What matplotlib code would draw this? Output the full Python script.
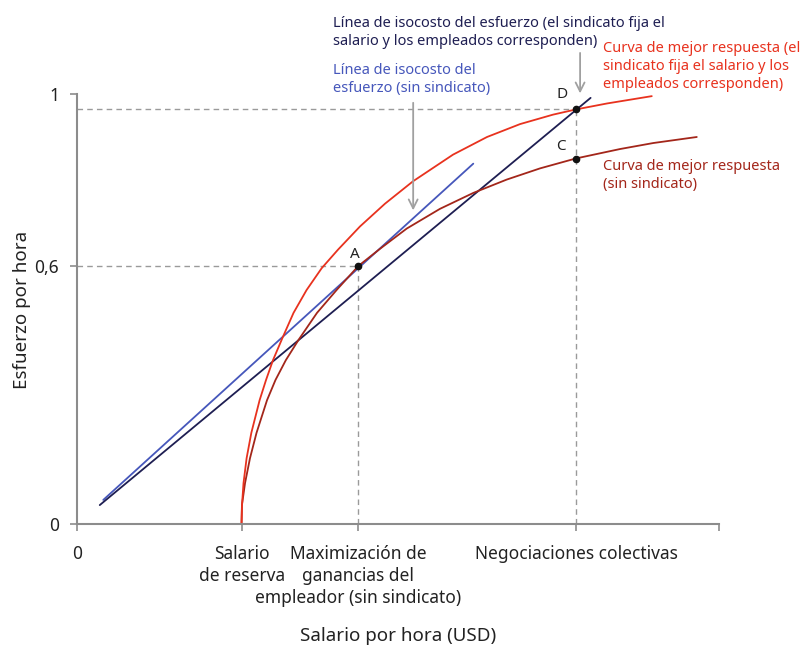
import matplotlib.pyplot as plt

plt.rcParams['font.family'] = ['Noto Sans', 'DejaVu Sans']

# wages (x) and effort (y)
w_reserve = 2.82
w_A, e_A = 4.82, 0.60
w_D, e_D = 8.55, 0.964
w_C, e_C = 8.55, 0.850
x_max = 11

# best response curve, no union (dark red)
br_x = [2.819, 2.826, 2.879, 2.964, 3.076, 3.256, 3.401, 3.578, 3.795, 4.112, 4.447,
        4.82, 5.192, 5.649, 6.220, 6.791, 7.363, 7.933, 8.545, 9.304, 9.875, 10.619]
br_y = [0.0, 0.044, 0.095, 0.153, 0.212, 0.288, 0.335, 0.381, 0.428, 0.491, 0.544,
        0.60, 0.640, 0.687, 0.733, 0.770, 0.801, 0.827, 0.850, 0.872, 0.886, 0.900]

# best response curve, union sets wage (red)
bru_x = [2.819, 2.827, 2.853, 2.906, 2.987, 3.129, 3.239, 3.358, 3.521, 3.710, 3.933,
         4.193, 4.472, 4.849, 5.278, 5.757, 6.443, 7.025, 7.591, 8.156, 8.545, 9.082, 9.848]
bru_y = [0.0, 0.044, 0.095, 0.153, 0.212, 0.288, 0.335, 0.381, 0.433, 0.491, 0.544,
         0.595, 0.638, 0.692, 0.745, 0.797, 0.859, 0.900, 0.930, 0.952, 0.964, 0.978, 0.995]

# isocost lines (end points)
iso_x = [0.45, 6.79]
iso_y = [0.056, 0.838]
isou_x = [0.39, 8.80]
isou_y = [0.044, 0.991]

red = '#e8321e'
darkred = '#a3261a'
navy = '#1e1e52'
blue = '#4657bb'
grey = '#8c8c8c'

fig = plt.figure(figsize=(8.1, 6.62), dpi=100)
ax = fig.add_axes([77 / 810, 1 - 524 / 662, 642 / 810, 430 / 662])

# guide lines
dash = dict(color='#9a9a9a', lw=1, dashes=(4, 3))
ax.plot([0, w_A], [e_A, e_A], **dash)
ax.plot([w_A, w_A], [0, e_A], **dash)
ax.plot([0, w_D], [e_D, e_D], **dash)
ax.plot([w_D, w_D], [0, e_D], **dash)

line = dict(lw=1.3, clip_on=False, solid_joinstyle='round', solid_capstyle='round')
ax.plot(iso_x, iso_y, color=blue, **line)
ax.plot(isou_x, isou_y, color=navy, **line)
ax.plot(br_x, br_y, color=darkred, **line)
ax.plot(bru_x, bru_y, color=red, **line)

ax.plot([w_A, w_C, w_D], [e_A, e_C, e_D], 'o', color='#111111', ms=4.5, clip_on=False, zorder=5)
ax.text(4.76, 0.626, 'A', fontsize=11, ha='center', va='center', color='#222222')
ax.text(8.29, 0.879, 'C', fontsize=11, ha='center', va='center', color='#222222')
ax.text(8.31, 0.998, 'D', fontsize=11, ha='center', va='center', color='#222222')

arrow = dict(arrowstyle='->', color='#a0a0a0', lw=1.3, mutation_scale=16)
ax.annotate('', xy=(5.76, 0.723), xytext=(5.76, 0.986), arrowprops=arrow, annotation_clip=False)
ax.annotate('', xy=(8.62, 0.995), xytext=(8.62, 1.102), arrowprops=arrow, annotation_clip=False)

fig.text(333 / 810, 1 - 16 / 662,
         'Línea de isocosto del esfuerzo (el sindicato fija el\nsalario y los empleados corresponden)',
         color=navy, fontsize=10.5, va='top', linespacing=1.3)
fig.text(333 / 810, 1 - 63 / 662, 'Línea de isocosto del\nesfuerzo (sin sindicato)',
         color=blue, fontsize=10.5, va='top', linespacing=1.25)
fig.text(603 / 810, 1 - 41 / 662,
         'Curva de mejor respuesta (el\nsindicato fija el salario y los\nempleados corresponden)',
         color=red, fontsize=10.5, va='top', linespacing=1.25)
fig.text(603 / 810, 1 - 159 / 662, 'Curva de mejor respuesta\n(sin sindicato)',
         color=darkred, fontsize=10.5, va='top', linespacing=1.25)

ax.set_xlim(0, x_max)
ax.set_ylim(0, 1)
ax.set_xticks([0, w_reserve, w_A, w_D, x_max],
              ['0', 'Salario\nde reserva', 'Maximización de\nganancias del\nempleador (sin sindicato)',
               'Negociaciones colectivas', ''])
ax.set_yticks([0, 0.6, 1], ['0', '0,6', '1'])
ax.tick_params(colors=grey, labelcolor='#222222', labelsize=12.5, width=1.2, length=5)
ax.tick_params(axis='x', pad=10)
ax.tick_params(axis='y', pad=8)
for lbl in ax.get_xticklabels():
    lbl.set_linespacing(1.3)

for s in ['top', 'right']:
    ax.spines[s].set_visible(False)
for s in ['left', 'bottom']:
    ax.spines[s].set_color(grey)
    ax.spines[s].set_linewidth(1.5)

fig.text(398 / 810, 1 - 636 / 662, 'Salario por hora (USD)', fontsize=13.5,
         ha='center', va='center', color='#222222')
fig.text(22 / 810, 1 - 310 / 662, 'Esfuerzo por hora', fontsize=13.5, rotation=90,
         ha='center', va='center', color='#222222')

fig.savefig('out.png', dpi=100)
